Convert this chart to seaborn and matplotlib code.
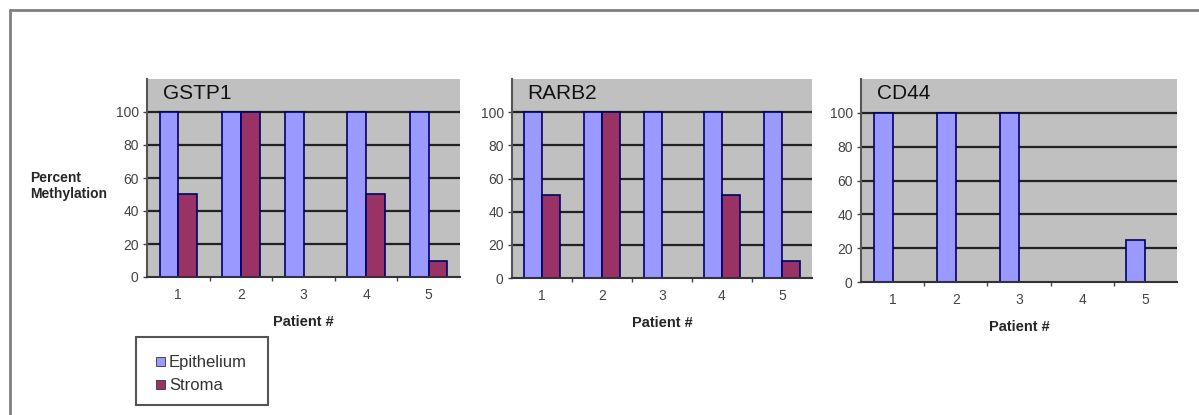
import pandas as pd
import matplotlib
matplotlib.use("Agg")
import matplotlib.pyplot as plt
import seaborn as sns
from matplotlib.patches import Rectangle

# data
patients = ["1", "2", "3", "4", "5"]
genes = ["GSTP1", "RARB2", "CD44"]
gstp1_epi = [100, 100, 100, 100, 100]
gstp1_str = [50, 100, 0, 50, 10]
rarb2_epi = [100, 100, 100, 100, 100]
rarb2_str = [50, 100, 0, 50, 10]
cd44_epi = [100, 100, 100, 0, 25]
cd44_str = [0, 0, 0, 0, 0]
yticks = [0, 20, 40, 60, 80, 100]

series = {
    "GSTP1": (gstp1_epi, gstp1_str),
    "RARB2": (rarb2_epi, rarb2_str),
    "CD44": (cd44_epi, cd44_str),
}

rows = []
for g in genes:
    epi, stro = series[g]
    for p, e, s in zip(patients, epi, stro):
        rows.append({"gene": g, "patient": p, "tissue": "Epithelium", "pct": e})
        rows.append({"gene": g, "patient": p, "tissue": "Stroma", "pct": s})
df = pd.DataFrame(rows)

sns.set_theme(style="white")
plt.rcParams["font.family"] = ["Liberation Sans", "DejaVu Sans"]

W, H = 1199, 415
fig = plt.figure(figsize=(W / 100, H / 100), dpi=100)

# outer frame (top and left edges visible)
fig.add_artist(plt.Line2D([10 / W, 10 / W], [0, 1 - 10 / H], transform=fig.transFigure,
                          color="#808080", lw=2))
fig.add_artist(plt.Line2D([10 / W, 1], [1 - 10 / H, 1 - 10 / H], transform=fig.transFigure,
                          color="#808080", lw=2))

# panel boxes in pixels: left, right, top, bottom
boxes = [(147, 460, 79, 277), (512, 812, 79, 278), (861, 1177, 79, 282)]
pal = {"Epithelium": "#9999FF", "Stroma": "#993366"}

for g, (l, r, t, b) in zip(genes, boxes):
    ax = fig.add_axes([l / W, 1 - b / H, (r - l) / W, (b - t) / H])
    sub = df[df["gene"] == g]
    sns.barplot(data=sub, x="patient", y="pct", hue="tissue", palette=pal,
                width=0.6, edgecolor="#000066", linewidth=1.2, saturation=1,
                legend=False, ax=ax)
    ax.set_facecolor("#C0C0C0")
    ax.set_ylim(0, 120)
    ax.set_xlim(-0.5, 4.5)
    ax.set_yticks(yticks)
    ax.set_yticklabels([str(v) for v in yticks], fontsize=10, color="#444444")
    ax.tick_params(axis="y", length=3, width=1, color="#444444", pad=3, left=True)
    ax.tick_params(axis="x", length=0, pad=8, labelsize=10, labelcolor="#444444")
    ax.set_xticks(range(5), minor=False)
    ax.set_xticks([0.5, 1.5, 2.5, 3.5], minor=True)
    ax.tick_params(axis="x", which="minor", length=3, color="#444444", bottom=True)
    for v in yticks[1:]:
        ax.axhline(v, color="#222222", lw=1.6, zorder=0.5)
    for side in ["right", "top"]:
        ax.spines[side].set_visible(False)
    ax.spines["left"].set_color("#555555")
    ax.spines["left"].set_linewidth(1.5)
    ax.spines["bottom"].set_color("#333333")
    ax.spines["bottom"].set_linewidth(1.5)
    ax.set_axisbelow(True)
    ax.text(0.05, 0.975, g, transform=ax.transAxes, ha="left", va="top",
            fontsize=15, color="#111111")
    ax.set_xlabel("Patient #", fontsize=10.5, fontweight="bold", labelpad=9)
    ax.set_ylabel("")

fig.text(30 / W, 1 - 186 / H, "Percent\nMethylation", ha="left", va="center",
         fontsize=10, fontweight="bold", linespacing=1.1)

# legend box
fig.add_artist(Rectangle((136 / W, 1 - 405 / H), (268 - 136) / W, (405 - 337) / H,
                         transform=fig.transFigure, fill=False,
                         edgecolor="#555555", lw=1.5))
for i, name in enumerate(["Epithelium", "Stroma"]):
    y = 362 + i * 23
    fig.add_artist(Rectangle((156 / W, 1 - (y + 4) / H), 9 / W, 9 / H,
                             transform=fig.transFigure, facecolor=pal[name],
                             edgecolor="#333333", lw=0.6))
    fig.text(169 / W, 1 - y / H, name, ha="left", va="center", fontsize=12,
             color="#333333")

fig.savefig("out.png", dpi=100)
